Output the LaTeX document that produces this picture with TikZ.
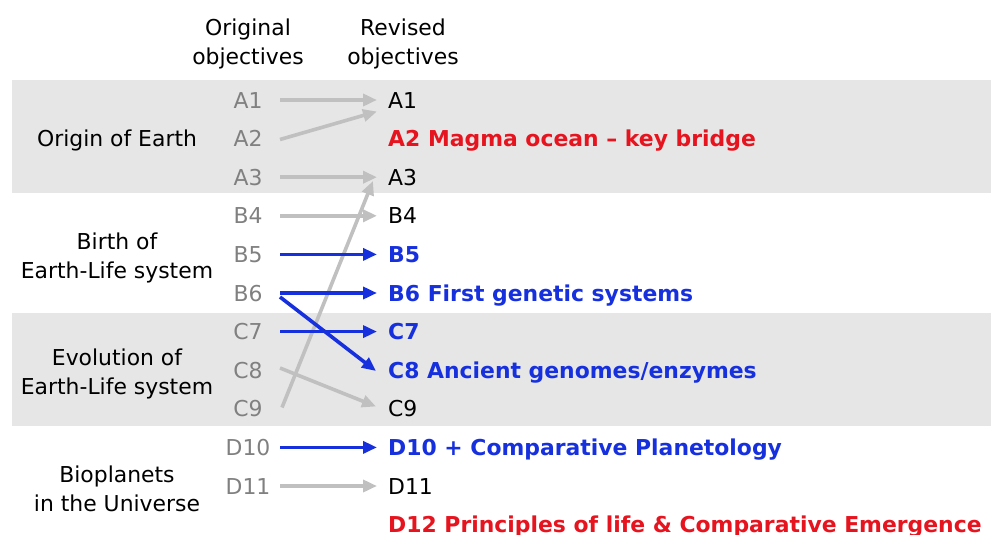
\documentclass[tikz,border=0pt]{standalone}
\usepackage{fontspec}
\setmainfont{DejaVu Sans}
\usetikzlibrary{arrows.meta}
\definecolor{band}{RGB}{230,230,230}
\definecolor{ogray}{RGB}{128,128,128}
\definecolor{agray}{RGB}{192,192,192}
\definecolor{myblue}{RGB}{22,48,222}
\definecolor{myred}{RGB}{230,20,30}
\begin{document}
\begin{tikzpicture}[x=1pt,y=-1pt,
  font=\fontsize{21.9}{29.5}\selectfont,
  lab/.style={anchor=base, inner sep=0pt},
  orig/.style={anchor=base, inner sep=0pt, text=ogray},
  rev/.style={anchor=base west, inner sep=0pt},
  revb/.style={anchor=base west, inner sep=0pt, font=\fontsize{21.9}{29.5}\selectfont\bfseries},
  garrow/.style={draw=agray, line width=3.6pt, -{Triangle[length=14pt,width=12pt]}},
  barrow/.style={draw=myblue, line width=3.6pt, -{Triangle[length=14pt,width=12pt]}}]
\useasboundingbox (0,0) rectangle (991,535);
% bands
\fill[band] (12,80) rectangle (991,193);
\fill[band] (12,313) rectangle (991,426);
% headers
\node[lab] (h1a) at (248,36) {Original};
\node[lab] (h1b) at (248,65) {objectives};
\node[lab] (h2a) at (403,36) {Revised};
\node[lab] (h2b) at (403,65) {objectives};
% left group labels
\node[lab] (g1) at (117,146.6) {Origin of Earth};
\node[lab] (g2a) at (117,249) {Birth of};
\node[lab] (g2b) at (117,278) {Earth-Life system};
\node[lab] (g3a) at (117,365) {Evolution of};
\node[lab] (g3b) at (117,394) {Earth-Life system};
\node[lab] (g4a) at (117,482) {Bioplanets};
\node[lab] (g4b) at (117,511) {in the Universe};
% original objectives
\node[orig] (o1) at (248,108) {A1};
\node[orig] (o2) at (248,146.6) {A2};
\node[orig] (o3) at (248,185.2) {A3};
\node[orig] (o4) at (248,223.8) {B4};
\node[orig] (o5) at (248,262.4) {B5};
\node[orig] (o6) at (248,301) {B6};
\node[orig] (o7) at (248,339.6) {C7};
\node[orig] (o8) at (248,378.2) {C8};
\node[orig] (o9) at (248,416.8) {C9};
\node[orig] (o10) at (248,455.4) {D10};
\node[orig] (o11) at (248,494) {D11};
% revised objectives
\node[rev] (r1) at (388,108) {A1};
\node[revb, text=myred] (r2) at (388,146.6) {A2 Magma ocean – key bridge};
\node[rev] (r3) at (388,185.2) {A3};
\node[rev] (r4) at (388,223.8) {B4};
\node[revb, text=myblue] (r5) at (388,262.4) {B5};
\node[revb, text=myblue] (r6) at (388,301) {B6 First genetic systems};
\node[revb, text=myblue] (r7) at (388,339.6) {C7};
\node[revb, text=myblue] (r8) at (388,378.2) {C8 Ancient genomes/enzymes};
\node[rev] (r9) at (388,416.8) {C9};
\node[revb, text=myblue] (r10) at (388,455.4) {D10 + Comparative Planetology};
\node[rev] (r11) at (388,494) {D11};
\node[revb, text=myred] (r12) at (388,532) {D12 Principles of life \& Comparative Emergence};
% arrow end points
\coordinate (s1) at (280,100);   \coordinate (t1) at (377,100);
\coordinate (s2) at (280,139.5); \coordinate (t2) at (377,111.5);
\coordinate (s3) at (280,177.2); \coordinate (t3) at (377,177.2);
\coordinate (s4) at (280,215.8); \coordinate (t4) at (377,215.8);
\coordinate (s5) at (280,254.4); \coordinate (t5) at (377,254.4);
\coordinate (s6) at (280,293);   \coordinate (t6) at (377,293);
\coordinate (s6b) at (280,297);  \coordinate (t6b) at (376,371);
\coordinate (s7) at (280,331.6); \coordinate (t7) at (377,331.6);
\coordinate (s8) at (280,368);   \coordinate (t8) at (376,406.5);
\coordinate (s9) at (282,407.5); \coordinate (t9) at (373,181);
\coordinate (s10) at (280,447.4); \coordinate (t10) at (377,447.4);
\coordinate (s11) at (280,486);  \coordinate (t11) at (377,486);
% gray arrows
\draw[garrow] (s1) -- (t1);
\draw[garrow] (s2) -- (t2);
\draw[garrow] (s3) -- (t3);
\draw[garrow] (s4) -- (t4);
\draw[garrow] (s8) -- (t8);
\draw[garrow] (s9) -- (t9);
\draw[garrow] (s11) -- (t11);
% blue arrows
\draw[barrow] (s5) -- (t5);
\draw[barrow] (s6) -- (t6);
\draw[barrow] (s6b) -- (t6b);
\draw[barrow] (s7) -- (t7);
\draw[barrow] (s10) -- (t10);
\end{tikzpicture}
\end{document}
